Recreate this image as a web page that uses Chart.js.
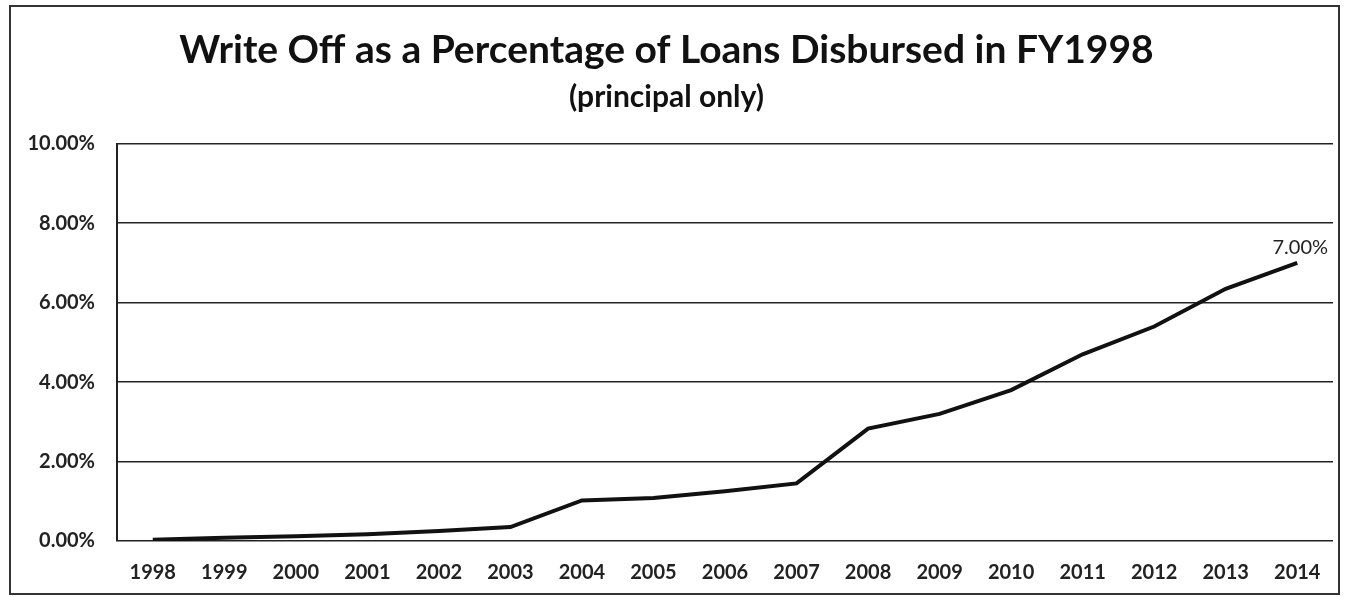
<!DOCTYPE html>
<html>
<head>
<meta charset="utf-8">
<script src="https://cdn.jsdelivr.net/npm/chart.js@4.4.1/dist/chart.umd.min.js"></script>
<style>
  html, body { margin: 0; padding: 0; background: #fff; }
  #wrap { position: absolute; left: 0; top: 0; width: 1346px; height: 597px; }
  #frame {
    position: absolute; left: 9px; top: 5px; width: 1331px; height: 590px;
    box-sizing: border-box; border: 2px solid #333; pointer-events: none;
  }
</style>
</head>
<body>
<div id="wrap">
  <canvas id="writeOffChart" width="1346" height="597"></canvas>
  <div id="frame"></div>
</div>
<script>
// fiscal years on the x axis
const years = ['1998', '1999', '2000', '2001', '2002', '2003', '2004', '2005', '2006',
  '2007', '2008', '2009', '2010', '2011', '2012', '2013', '2014'];

// write off as % of loans disbursed (principal only)
const writeOffPct = [0.03, 0.08, 0.12, 0.17, 0.25, 0.35, 1.02, 1.08, 1.25,
  1.45, 2.83, 3.2, 3.8, 4.7, 5.4, 6.35, 7.0];

// y axis ticks
const yTicks = [0, 2, 4, 6, 8, 10];

const BASE_FONT = 'Lato, "Open Sans", sans-serif';

// label only the last point, like the original
const lastLabel = {
  id: 'lastLabel',
  afterDatasetsDraw(chart) {
    const meta = chart.getDatasetMeta(0);
    const i = writeOffPct.length - 1;
    const pt = meta.data[i];
    const ctx = chart.ctx;
    ctx.save();
    ctx.font = '20px ' + BASE_FONT;
    ctx.fillStyle = '#222';
    ctx.textAlign = 'center';
    ctx.textBaseline = 'bottom';
    ctx.fillText(writeOffPct[i].toFixed(2) + '%', pt.x + 3, pt.y - 5);
    ctx.restore();
  }
};

window.addEventListener('DOMContentLoaded', () => {
  const ctx = document.getElementById('writeOffChart').getContext('2d');

  new Chart(ctx, {
    type: 'line',
    data: {
      labels: years,
      datasets: [{
        data: writeOffPct,
        borderColor: '#111',
        borderWidth: 4,
        pointRadius: 0,
        tension: 0,
        fill: false
      }]
    },
    options: {
      responsive: false,
      animation: false,
      layout: { padding: { left: 0, right: 13, top: 0, bottom: 12 } },
      plugins: {
        legend: { display: false },
        tooltip: { enabled: false },
        title: {
          display: true,
          text: 'Write Off as a Percentage of Loans Disbursed in FY1998',
          color: '#111',
          font: { family: BASE_FONT, size: 39, weight: 'bold' },
          padding: { top: 27, bottom: 6 }
        },
        subtitle: {
          display: true,
          text: '(principal only)',
          color: '#111',
          font: { family: BASE_FONT, size: 30, weight: 'bold' },
          padding: { top: 0, bottom: 28 }
        }
      },
      scales: {
        x: {
          offset: true,
          grid: { display: false },
          border: { display: false },
          afterFit(scale) { scale.height = 44; },
          ticks: {
            color: '#222',
            padding: 12,
            maxRotation: 0,
            autoSkip: false,
            font: { family: BASE_FONT, size: 20, weight: 'bold' }
          }
        },
        y: {
          min: 0,
          max: 10,
          afterBuildTicks(scale) {
            scale.ticks = yTicks.map(v => ({ value: v }));
          },
          afterFit(scale) { scale.width = 117; },
          grid: { color: '#222', lineWidth: 1.5, drawTicks: false },
          border: { display: true, color: '#222', width: 2 },
          ticks: {
            color: '#222',
            padding: 22,
            font: { family: BASE_FONT, size: 20, weight: 'bold' },
            callback: v => v.toFixed(2) + '%'
          }
        }
      }
    },
    plugins: [lastLabel]
  });
});
</script>
</body>
</html>
